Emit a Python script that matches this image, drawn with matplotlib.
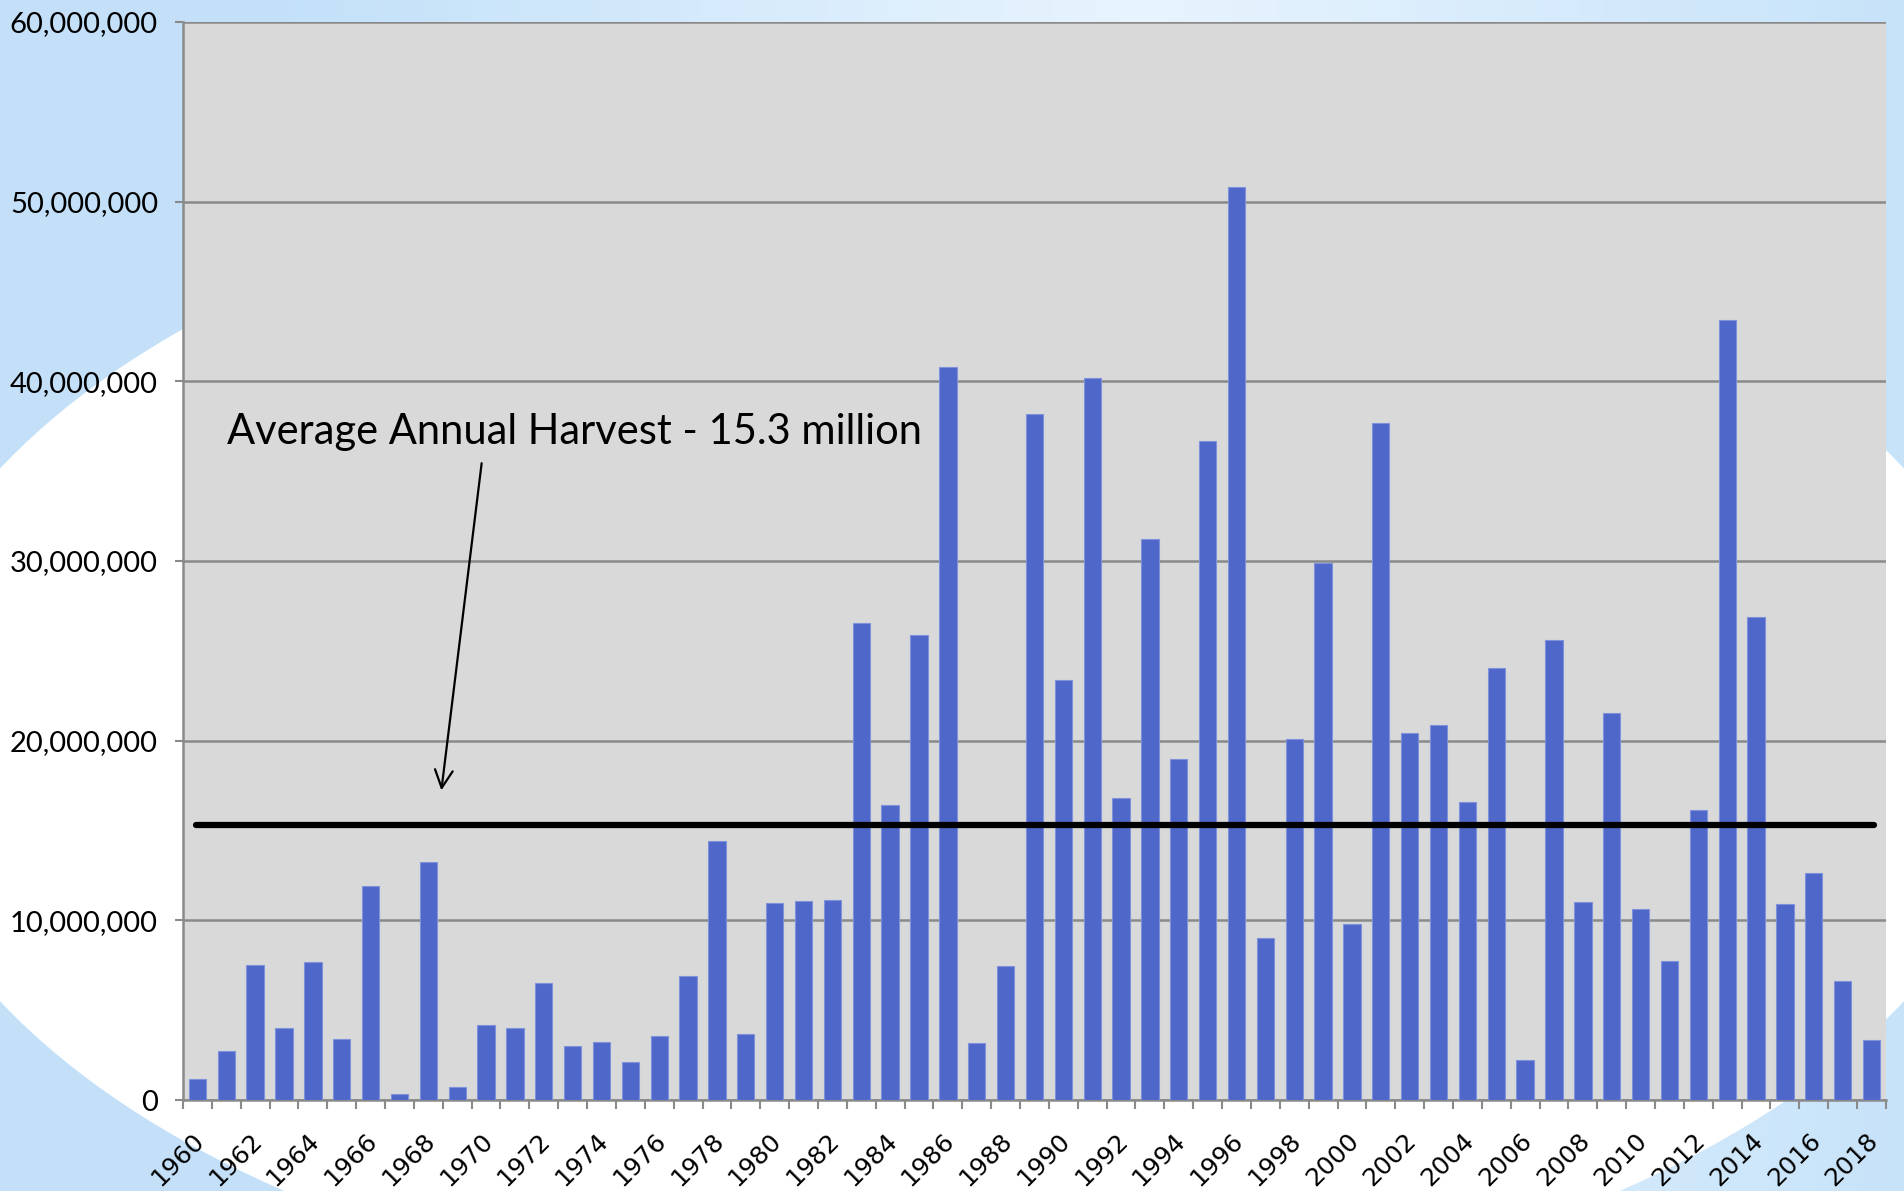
import numpy as np
import matplotlib
matplotlib.use('Agg')
import matplotlib.pyplot as plt
import matplotlib.transforms as mtransforms
from matplotlib.patches import Ellipse
from matplotlib.ticker import FuncFormatter

# ---------------------------- data ---------------------------- #
years = list(range(1960, 2019))
# annual harvest, millions
harvest = [1.15, 2.75, 7.5, 4.0, 7.7, 3.4, 11.9, 0.35, 13.25, 0.75,
           4.2, 4.0, 6.5, 3.0, 3.25, 2.1, 3.55, 6.9, 14.4, 3.65,
           10.95, 11.1, 11.15, 26.55, 16.4, 25.9, 40.8, 3.15, 7.45, 38.2,
           23.4, 40.2, 16.8, 31.2, 19.0, 36.7, 50.8, 9.0, 20.1, 29.9,
           9.8, 37.7, 20.4, 20.9, 16.6, 24.05, 2.25, 25.6, 11.0, 21.55,
           10.65, 7.75, 16.15, 43.4, 26.9, 10.9, 12.65, 6.65, 3.35]
average = 15.3
label_years = years[::2]
yticks = [0, 10e6, 20e6, 30e6, 40e6, 50e6, 60e6]

values = np.array(harvest) * 1e6
x = np.arange(len(years))

fig = plt.figure(figsize=(19.04, 11.91), dpi=100)

# ---------------------------- background ---------------------------- #
bg = fig.add_axes([0, 0, 1, 1], zorder=-10)
bg.set_xlim(0, 1)
bg.set_ylim(0, 1)
bg.axis('off')
blue = np.array([0.765, 0.882, 0.976])
light = np.array([0.91, 0.957, 0.996])
t = np.linspace(0, 1, 400)
w = np.clip(1 - np.abs(t - 0.6) / 0.45, 0, 1)
grad = blue[None, :] * (1 - w[:, None]) + light[None, :] * w[:, None]
bg.imshow(grad[None, :, :], extent=[0, 1, 0, 1], aspect='auto')
bg.add_patch(Ellipse((0.5, 0.383), 1.123, 0.979, color='white'))

# ---------------------------- chart ---------------------------- #
ax = fig.add_axes([0.0961, 0.0764, 0.8944, 0.9051])
ax.set_facecolor('#d9d9d9')
ax.bar(x, values, width=0.6, color='#4f67c9', edgecolor='#7f91dc',
       linewidth=0.8, zorder=3)
ax.plot([-0.05, 58.1], [average * 1e6] * 2, color='black', lw=4.5,
        solid_capstyle='round', zorder=4)

ax.set_xlim(-0.5, len(years) - 0.5)
ax.set_ylim(0, 60e6)
ax.set_yticks(yticks)
ax.yaxis.set_major_formatter(FuncFormatter(lambda v, p: f'{int(v):,}'))
ax.grid(axis='y', color='#8a8a8a', lw=1.8, zorder=1)
ax.set_axisbelow(True)

for s in ['top', 'right']:
    ax.spines[s].set_visible(False)
for s in ['left', 'bottom']:
    ax.spines[s].set_color('#8a8a8a')
    ax.spines[s].set_linewidth(1.8)

ax.tick_params(axis='y', length=6, width=1.5, color='#8a8a8a', pad=12,
               labelsize=21)
for lab in ax.get_yticklabels():
    lab.set_family(['Lato', 'DejaVu Sans'])

# labels at category centres, tick marks at category boundaries
ax.set_xticks(x[::2])
ax.set_xticklabels([str(y) for y in label_years], rotation=45,
                   ha='right', va='center', rotation_mode='anchor')
ax.set_xticks(np.arange(-0.5, len(years)), minor=True)
ax.tick_params(axis='x', which='major', length=0, pad=26.5, labelsize=18)
ax.tick_params(axis='x', which='minor', length=6.5, width=1.5,
               color='#8a8a8a')
offset = mtransforms.ScaledTranslation(3 / 100, 0, fig.dpi_scale_trans)
for lab in ax.get_xticklabels():
    lab.set_transform(lab.get_transform() + offset)

ax.annotate('', xy=(8.44, 17.08e6), xytext=(9.86, 35.6e6),
            arrowprops=dict(arrowstyle='->', lw=1.6, color='black',
                            mutation_scale=32))
ax.text(1.03, 36.5e6, 'Average Annual Harvest - 15.3 million', fontsize=30,
        family=['Lato', 'DejaVu Sans'], va='baseline', zorder=5)

fig.savefig('out.png', dpi=100)
